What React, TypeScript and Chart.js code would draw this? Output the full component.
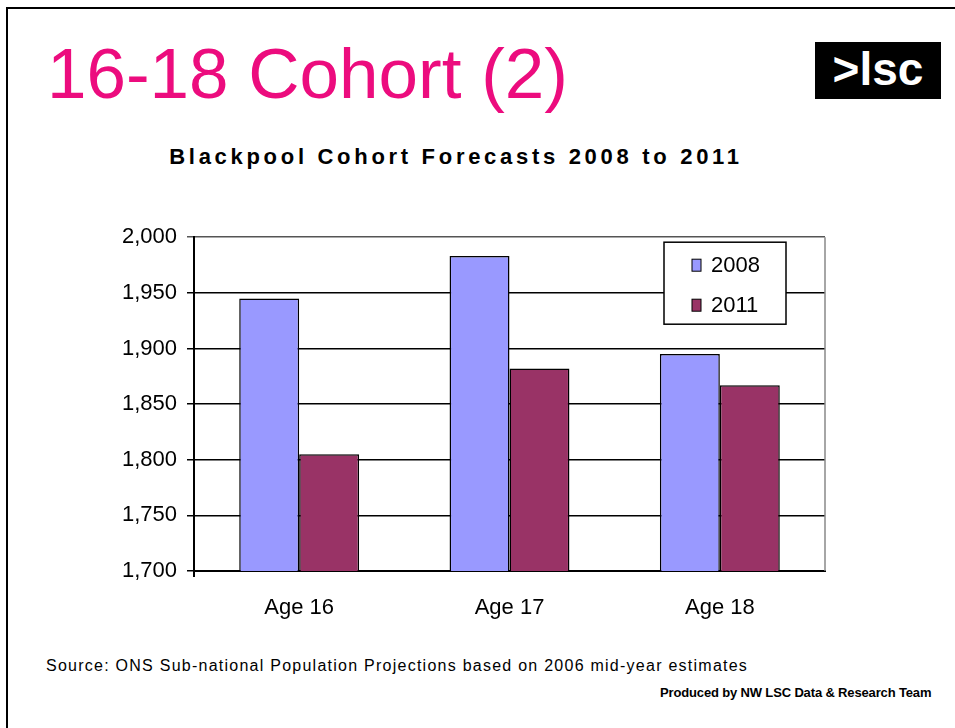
import React, { useEffect, useRef } from "react";
import { Chart, registerables } from "chart.js";

Chart.register(...registerables);

const categories = ["Age 16", "Age 17", "Age 18"];
const seriesLabels = ["2008", "2011"];
const values2008 = [1945, 1983, 1895];
const values2011 = [1805, 1882, 1867];
const yMin = 1700;
const yMax = 2000;
const yStep = 50;

const FONT = '"Liberation Sans", Arial, sans-serif';

const frameLegendPlugin = {
  id: "frameLegend",
  afterDraw(chart: any) {
    const { ctx, chartArea } = chart;
    ctx.save();
    // right border of plot area
    ctx.strokeStyle = "#888";
    ctx.lineWidth = 1.5;
    ctx.beginPath();
    ctx.moveTo(chartArea.right, chartArea.top);
    ctx.lineTo(chartArea.right, chartArea.bottom);
    ctx.stroke();
    // y axis extension below the plot
    ctx.strokeStyle = "#000";
    ctx.lineWidth = 2;
    ctx.beginPath();
    ctx.moveTo(chartArea.left, chartArea.bottom);
    ctx.lineTo(chartArea.left, chartArea.bottom + 6);
    ctx.stroke();
    // legend
    const bx = chartArea.left + 470;
    const by = chartArea.top + 5;
    const bw = 122;
    const bh = 82;
    ctx.fillStyle = "#fff";
    ctx.fillRect(bx, by, bw, bh);
    ctx.strokeStyle = "#000";
    ctx.lineWidth = 1.5;
    ctx.strokeRect(bx, by, bw, bh);
    ctx.font = `22px ${FONT}`;
    ctx.textBaseline = "middle";
    ctx.textAlign = "left";
    chart.data.datasets.forEach((ds: any, i: number) => {
      const cy = by + 23 + i * 40;
      ctx.fillStyle = ds.backgroundColor;
      ctx.fillRect(bx + 28, cy - 6, 9, 12);
      ctx.strokeStyle = "#000";
      ctx.lineWidth = 1;
      ctx.strokeRect(bx + 28, cy - 6, 9, 12);
      ctx.fillStyle = "#000";
      ctx.fillText(ds.label, bx + 47, cy + 1);
    });
    ctx.restore();
  },
};

function BarChart() {
  const ref = useRef<HTMLCanvasElement>(null);
  useEffect(() => {
    if (!ref.current) return;
    const chart = new Chart(ref.current, {
      type: "bar",
      data: {
        labels: categories,
        datasets: [
          {
            label: seriesLabels[0],
            data: values2008,
            backgroundColor: "#9999FF",
            borderColor: "#000",
            borderWidth: 1.5,
            barPercentage: 1,
            categoryPercentage: 0.57,
          },
          {
            label: seriesLabels[1],
            data: values2011,
            backgroundColor: "#993366",
            borderColor: "#000",
            borderWidth: 1.5,
            barPercentage: 1,
            categoryPercentage: 0.57,
          },
        ],
      },
      options: {
        animation: false,
        responsive: false,
        maintainAspectRatio: false,
        locale: "en-US",
        layout: { padding: { top: 0, right: 10, left: 0, bottom: 0 } },
        plugins: {
          legend: { display: false },
          tooltip: { enabled: false },
          title: { display: false },
        },
        scales: {
          x: {
            grid: { display: false, drawTicks: false },
            border: { display: true, color: "#000", width: 2 },
            ticks: {
              color: "#000",
              font: { family: FONT, size: 22 },
              padding: 24,
            },
            afterFit(scale: any) {
              scale.height = 50;
            },
          },
          y: {
            min: yMin,
            max: yMax,
            ticks: {
              stepSize: yStep,
              color: "#000",
              font: { family: FONT, size: 22 },
              padding: 10,
              callback: (v: any) => Number(v).toLocaleString("en-US"),
            },
            grid: {
              color: (c: any) => (c.tick && c.tick.value === yMax ? "#555" : "#000"),
              lineWidth: 1.5,
              tickLength: 7,
            },
            border: { display: true, color: "#000", width: 2 },
            afterFit(scale: any) {
              scale.width = 94;
            },
          },
        },
      },
      plugins: [frameLegendPlugin],
    });
    return () => chart.destroy();
  }, []);
  return (
    <canvas
      ref={ref}
      width={735}
      height={407}
      style={{ position: "absolute", left: 100, top: 214, width: 735, height: 407 }}
    />
  );
}

export default function App() {
  return (
    <div
      style={{
        position: "fixed",
        left: 0,
        top: 0,
        width: 955,
        height: 728,
        background: "#fff",
        overflow: "hidden",
        fontFamily: FONT,
      }}
    >
      <div
        style={{
          position: "absolute",
          left: 6,
          top: 7,
          width: 1100,
          height: 900,
          border: "2px solid #000",
        }}
      />
      <div
        style={{
          position: "absolute",
          left: 47,
          top: 38,
          fontSize: 71,
          lineHeight: "71px",
          color: "#EC0C7E",
          whiteSpace: "nowrap",
        }}
      >
        16-18 Cohort (2)
      </div>
      <div
        style={{
          position: "absolute",
          left: 815,
          top: 42,
          width: 126,
          height: 57,
          background: "#000",
          color: "#fff",
          fontWeight: "bold",
          fontSize: 46,
          lineHeight: "54px",
          textAlign: "center",
        }}
      >
        &gt;lsc
      </div>
      <div
        style={{
          position: "absolute",
          left: 0,
          width: 912,
          top: 146,
          fontSize: 22,
          lineHeight: "22px",
          fontWeight: "bold",
          letterSpacing: 3.7,
          textAlign: "center",
          whiteSpace: "nowrap",
          color: "#000",
        }}
      >
        Blackpool Cohort Forecasts 2008 to 2011
      </div>
      <BarChart />
      <div
        style={{
          position: "absolute",
          left: 46,
          top: 658,
          fontSize: 16,
          lineHeight: "16px",
          letterSpacing: 1.25,
          whiteSpace: "nowrap",
          color: "#000",
        }}
      >
        Source: ONS Sub-national Population Projections based on 2006 mid-year estimates
      </div>
      <div
        style={{
          position: "absolute",
          left: 660,
          top: 686,
          fontSize: 13,
          lineHeight: "13px",
          fontWeight: "bold",
          letterSpacing: -0.15,
          whiteSpace: "nowrap",
          color: "#000",
        }}
      >
        Produced by NW LSC Data &amp; Research Team
      </div>
    </div>
  );
}
